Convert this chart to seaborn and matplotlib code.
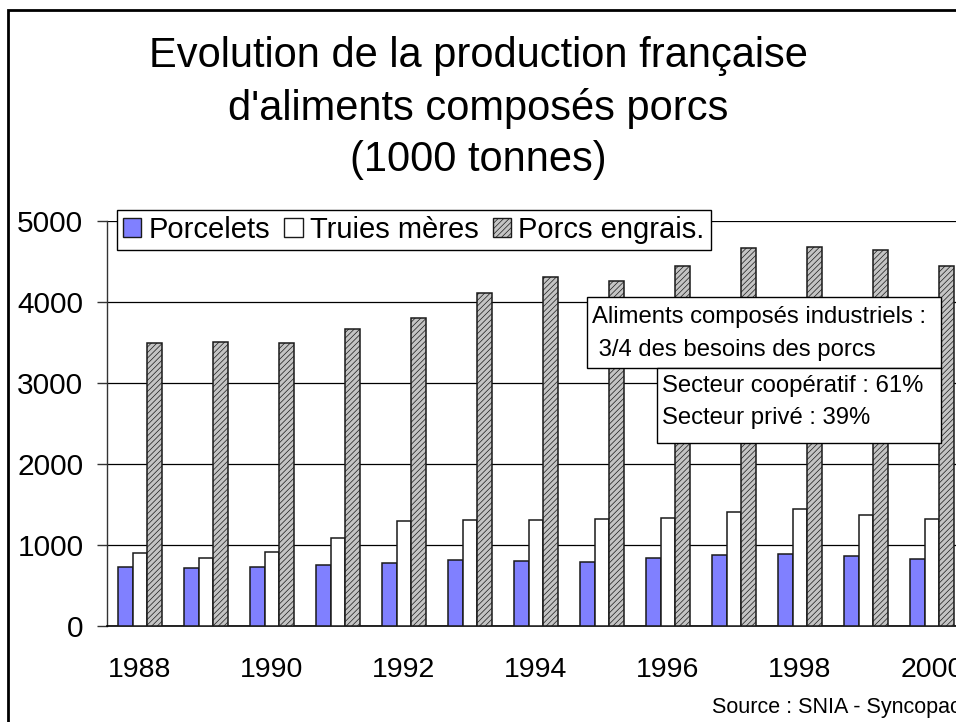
import numpy as np
import pandas as pd
import matplotlib
matplotlib.use("Agg")
import matplotlib.pyplot as plt
from matplotlib.patches import Patch, Rectangle
import seaborn as sns

# Data (1000 tonnes)
annees = [str(a) for a in range(1988, 2001)]
porcelets = [730, 710, 725, 750, 780, 810, 805, 795, 835, 875, 885, 865, 830]
truies = [905, 845, 915, 1085, 1290, 1305, 1310, 1315, 1335, 1410, 1440, 1365, 1320]
porcs = [3490, 3500, 3490, 3660, 3800, 4110, 4300, 4260, 4445, 4660, 4670, 4635, 4435]
series = ["Porcelets", "Truies mères", "Porcs engrais."]
couleurs = ["#8080ff", "#ffffff", "#c4c4c4"]

df = pd.DataFrame({
    "annee": annees * 3,
    "valeur": porcelets + truies + porcs,
    "serie": [series[0]] * 13 + [series[1]] * 13 + [series[2]] * 13,
})

sns.set_theme(style="white")
plt.rcParams["font.family"] = ["Liberation Sans", "DejaVu Sans"]
plt.rcParams["hatch.linewidth"] = 0.5
plt.rcParams["text.color"] = "black"
plt.rcParams["xtick.color"] = "black"
plt.rcParams["ytick.color"] = "black"

W, H = 956, 722
fig = plt.figure(figsize=(W / 100, H / 100), dpi=100)
ax = fig.add_axes([107 / W, 1 - 626 / H, 858 / W, (626 - 220.7) / H])

sns.barplot(data=df, x="annee", y="valeur", hue="serie", hue_order=series,
            palette=couleurs, saturation=1, width=3 / 4.5, errorbar=None,
            edgecolor="#1a1a1a", linewidth=1.1, legend=False, ax=ax, zorder=3)

for bar in ax.containers[2]:
    bar.set_hatch("//////")

ax.set_xlim(-0.5, 12.5)
ax.set_ylim(0, 5000)
ax.set_yticks(range(0, 5001, 1000))
ax.yaxis.grid(True, color="black", linewidth=0.9)
ax.set_axisbelow(True)
ax.set_xlabel("")
ax.set_ylabel("")

ax.set_xticks(range(0, 13, 2))
ax.set_xticklabels(annees[::2])
ax.set_xticks(np.arange(-0.5, 13, 1), minor=True)
ax.tick_params(axis="x", which="major", length=0, pad=22, labelsize=20.5)
ax.tick_params(axis="x", which="minor", direction="in", length=6, width=1, color="#333333")
ax.tick_params(axis="y", which="major", direction="out", length=7, width=1,
               color="#333333", pad=10, labelsize=21.5, left=True)

for s in ["top", "right"]:
    ax.spines[s].set_visible(False)
ax.spines["left"].set_color("#333333")
ax.spines["bottom"].set_color("black")
ax.spines["left"].set_linewidth(1)
ax.spines["bottom"].set_linewidth(1.2)

handles = [Patch(facecolor=c, edgecolor="#1a1a1a", linewidth=1, hatch=h)
           for c, h in zip(couleurs, ["", "", "//////"])]
leg = ax.legend(handles, series, loc="upper left", ncol=3,
                bbox_to_anchor=(117 / W, 1 - 210 / H), bbox_transform=fig.transFigure,
                borderaxespad=0, borderpad=0.2, handlelength=0.62, handleheight=0.62,
                handletextpad=0.25, columnspacing=0.5, fontsize=21,
                frameon=True, fancybox=False, framealpha=1, edgecolor="black")
leg.get_frame().set_linewidth(1)
leg.set_zorder(10)

# Title
fig.text(0.5, 1 - 108 / H,
         "Evolution de la production française\nd'aliments composés porcs\n(1000 tonnes)",
         ha="center", va="center", fontsize=30, linespacing=1.36)

# Annotation boxes
fig.patches.append(Rectangle((587 / W, 1 - 368 / H), 354 / W, 71 / H, transform=fig.transFigure,
                             facecolor="white", edgecolor="black", linewidth=1, zorder=5))
fig.patches.append(Rectangle((657 / W, 1 - 443 / H), 284 / W, 75 / H, transform=fig.transFigure,
                             facecolor="white", edgecolor="black", linewidth=1, zorder=5))
fig.text(592 / W, 1 - 317 / H, "Aliments composés industriels :", fontsize=17.2,
         va="center", ha="left", zorder=6)
fig.text(592 / W, 1 - 350 / H, " 3/4 des besoins des porcs", fontsize=17.2,
         va="center", ha="left", zorder=6)
fig.text(662 / W, 1 - 386 / H, "Secteur coopératif : 61%", fontsize=17.2,
         va="center", ha="left", zorder=6)
fig.text(662 / W, 1 - 418 / H, "Secteur privé : 39%", fontsize=17.2,
         va="center", ha="left", zorder=6)

fig.text(712 / W, 1 - 708 / H, "Source : SNIA - Syncopac", fontsize=15.5,
         va="center", ha="left")

# Slide frame
fig.patches.append(Rectangle((8 / W, -0.5), 2, 1 - 10 / H + 0.5, transform=fig.transFigure,
                             fill=False, edgecolor="black", linewidth=2, zorder=1))

fig.savefig("out.png", dpi=100)
